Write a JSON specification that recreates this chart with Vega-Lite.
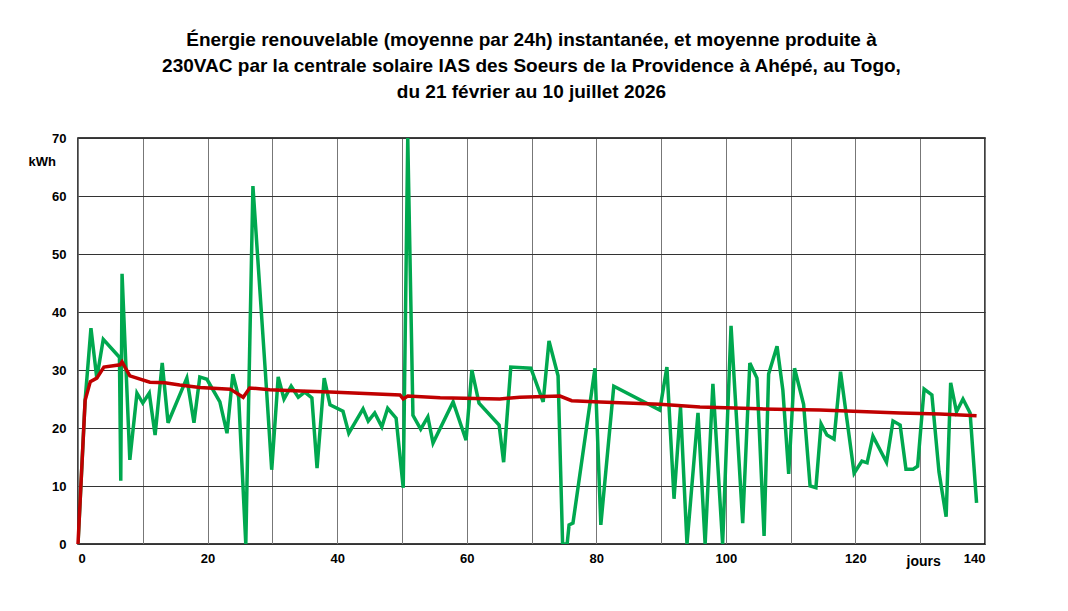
{
  "$schema": "https://vega.github.io/schema/vega-lite/v6.json",
  "width": 907,
  "height": 406,
  "autosize": "none",
  "padding": {"left": 78, "top": 138, "right": 83, "bottom": 67},
  "background": "white",
  "title": {
    "text": ["Énergie renouvelable (moyenne par 24h) instantanée, et moyenne produite à", "230VAC par la centrale solaire IAS des Soeurs de la Providence à Ahépé, au Togo,", "du 21 février au 10 juillet 2026"],
    "font": "Liberation Sans",
    "fontSize": 19,
    "fontWeight": "bold",
    "lineHeight": 26,
    "color": "black",
    "offset": 30,
    "anchor": "middle"
  },
  "config": {
    "view": {"stroke": "black", "strokeWidth": 1.5},
    "axis": {"labelFont": "Liberation Sans", "labelFontSize": 13, "labelFontWeight": "bold", "labelColor": "black", "titleFont": "Liberation Sans", "titleFontSize": 13, "titleFontWeight": "bold", "gridColor": "#777", "gridWidth": 1, "gridOpacity": 1, "domain": false, "ticks": false}
  },
  "datasets": {
    "green": [
      {"d": 0, "v": 0}, {"d": 1.1, "v": 24.8}, {"d": 2, "v": 37.2}, {"d": 2.9, "v": 28.6}, {"d": 3.9, "v": 35.3},
      {"d": 6.4, "v": 32.2}, {"d": 6.6, "v": 10.9}, {"d": 6.8, "v": 46.6}, {"d": 8, "v": 14.5}, {"d": 9.1, "v": 26},
      {"d": 10, "v": 24.3}, {"d": 11, "v": 26}, {"d": 11.9, "v": 18.8}, {"d": 13, "v": 31.2}, {"d": 13.9, "v": 20.9},
      {"d": 16.8, "v": 28.6}, {"d": 17.9, "v": 20.9}, {"d": 18.8, "v": 28.8}, {"d": 19.9, "v": 28.4}, {"d": 21.9, "v": 24.5},
      {"d": 23, "v": 19.1}, {"d": 23.9, "v": 29.3}, {"d": 24.8, "v": 25.3}, {"d": 25.9, "v": 0}, {"d": 27, "v": 61.7},
      {"d": 28.9, "v": 30}, {"d": 29.9, "v": 12.8}, {"d": 30.9, "v": 28.8}, {"d": 31.8, "v": 25}, {"d": 32.9, "v": 27.2},
      {"d": 34, "v": 25.3}, {"d": 35, "v": 26.2}, {"d": 36.1, "v": 25.2}, {"d": 36.9, "v": 13.1}, {"d": 38, "v": 28.6},
      {"d": 38.9, "v": 24}, {"d": 40.9, "v": 22.9}, {"d": 41.8, "v": 19.1}, {"d": 44, "v": 23.3}, {"d": 44.8, "v": 21.2},
      {"d": 45.8, "v": 22.6}, {"d": 46.9, "v": 20.2}, {"d": 47.8, "v": 23.4}, {"d": 49.1, "v": 21.7}, {"d": 50.2, "v": 9.7},
      {"d": 50.9, "v": 70}, {"d": 51.7, "v": 22.2}, {"d": 52.9, "v": 19.8}, {"d": 54, "v": 21.9}, {"d": 54.8, "v": 17.4},
      {"d": 57.9, "v": 24.5}, {"d": 59.9, "v": 17.9}, {"d": 60.8, "v": 30}, {"d": 61.9, "v": 24.3}, {"d": 65, "v": 20.5},
      {"d": 65.7, "v": 14.1}, {"d": 66.8, "v": 30.5}, {"d": 69.9, "v": 30.3}, {"d": 71.8, "v": 24.5}, {"d": 72.7, "v": 35},
      {"d": 74.1, "v": 29}, {"d": 74.8, "v": 0}, {"d": 75.5, "v": 0}, {"d": 75.8, "v": 3.3}, {"d": 76.4, "v": 3.6},
      {"d": 79.8, "v": 30.3}, {"d": 80.7, "v": 3.3}, {"d": 82.7, "v": 27.2}, {"d": 89.8, "v": 23.1}, {"d": 90.9, "v": 30.5},
      {"d": 92, "v": 7.8}, {"d": 93, "v": 23.6}, {"d": 94, "v": 0}, {"d": 95.7, "v": 22.6}, {"d": 96.8, "v": 0},
      {"d": 98, "v": 27.6}, {"d": 99.5, "v": 0}, {"d": 100.8, "v": 37.6}, {"d": 102.6, "v": 3.6}, {"d": 103.7, "v": 31.2},
      {"d": 104.8, "v": 28.6}, {"d": 105.9, "v": 1.4}, {"d": 106.6, "v": 29.3}, {"d": 107.9, "v": 34.1}, {"d": 108.8, "v": 26.5},
      {"d": 109.7, "v": 12.1}, {"d": 110.6, "v": 30.3}, {"d": 112, "v": 24.1}, {"d": 113, "v": 10}, {"d": 113.9, "v": 9.7},
      {"d": 114.7, "v": 20.7}, {"d": 115.6, "v": 18.8}, {"d": 116.7, "v": 18.1}, {"d": 117.7, "v": 29.7}, {"d": 119.8, "v": 12.2},
      {"d": 121, "v": 14.3}, {"d": 121.8, "v": 14}, {"d": 122.7, "v": 18.6}, {"d": 124.8, "v": 14.1}, {"d": 125.8, "v": 21.2},
      {"d": 126.9, "v": 20.5}, {"d": 127.8, "v": 12.9}, {"d": 128.9, "v": 12.9}, {"d": 129.6, "v": 13.4}, {"d": 130.6, "v": 26.7},
      {"d": 131.8, "v": 25.7}, {"d": 132.9, "v": 12.4}, {"d": 134, "v": 4.7}, {"d": 134.7, "v": 27.8}, {"d": 135.6, "v": 22.8},
      {"d": 136.6, "v": 25}, {"d": 137.7, "v": 22.6}, {"d": 138.7, "v": 7.1}
    ],
    "red": [
      {"d": 0, "v": 0}, {"d": 1.1, "v": 24.8}, {"d": 1.9, "v": 28}, {"d": 2.9, "v": 28.6}, {"d": 4, "v": 30.5},
      {"d": 6.5, "v": 30.9}, {"d": 6.8, "v": 31.4}, {"d": 8, "v": 29}, {"d": 11.1, "v": 27.9}, {"d": 13.4, "v": 27.8},
      {"d": 15.7, "v": 27.4}, {"d": 18.8, "v": 27}, {"d": 23.5, "v": 26.7}, {"d": 25.5, "v": 25.3}, {"d": 26.5, "v": 26.9},
      {"d": 29.6, "v": 26.6}, {"d": 34.3, "v": 26.4}, {"d": 38.9, "v": 26.2}, {"d": 49.7, "v": 25.7}, {"d": 50.2, "v": 25},
      {"d": 50.9, "v": 25.5}, {"d": 55.9, "v": 25.2}, {"d": 65.1, "v": 25}, {"d": 68.2, "v": 25.3}, {"d": 74.4, "v": 25.5},
      {"d": 76.2, "v": 24.7}, {"d": 80.6, "v": 24.5}, {"d": 89.8, "v": 24.1}, {"d": 96, "v": 23.6}, {"d": 105.2, "v": 23.3},
      {"d": 114.5, "v": 23.1}, {"d": 126.9, "v": 22.6}, {"d": 133, "v": 22.4}, {"d": 138.7, "v": 22.1}
    ]
  },
  "encoding": {
    "x": {"field": "d", "type": "quantitative", "scale": {"domain": [0, 140], "nice": false},
      "axis": {"values": [0, 10, 20, 30, 40, 50, 60, 70, 80, 90, 100, 110, 120, 130, 140], "labelExpr": "datum.value % 20 == 0 ? datum.label : ''", "labelPadding": 8, "title": "jours", "titleX": 828, "titleY": 10, "titleAnchor": "start", "titleBaseline": "top", "titleFontSize": 14}},
    "y": {"field": "v", "type": "quantitative", "scale": {"domain": [0, 70], "nice": false},
      "axis": {"values": [0, 10, 20, 30, 40, 50, 60, 70], "labelPadding": 12, "title": "kWh", "titleAngle": 0, "titleX": -50, "titleY": 30, "titleAnchor": "start", "gridColor": "#333"}}
  },
  "layer": [
    {"data": {"name": "green"}, "mark": {"type": "line", "color": "#00a84f", "strokeWidth": 3.5, "clip": true}},
    {"data": {"name": "red"}, "mark": {"type": "line", "color": "#c00000", "strokeWidth": 3.5}}
  ]
}
